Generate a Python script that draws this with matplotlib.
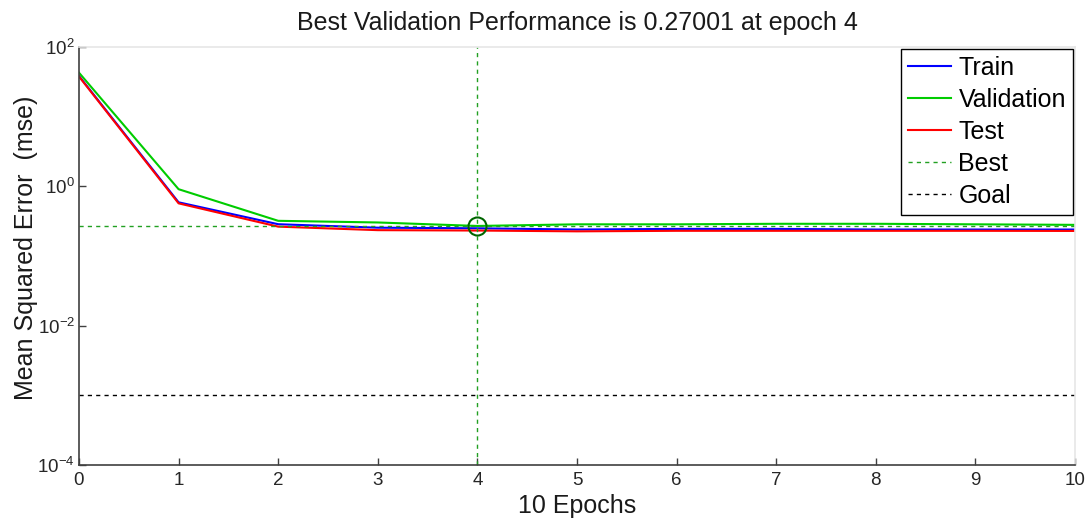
import matplotlib
matplotlib.use("Agg")
import matplotlib.pyplot as plt
from matplotlib.ticker import LogFormatterSciNotation, NullLocator

plt.rcParams["font.family"] = ["Liberation Sans", "DejaVu Sans"]
plt.rcParams["mathtext.default"] = "regular"
plt.rcParams["axes.unicode_minus"] = False

epochs = [0, 1, 2, 3, 4, 5, 6, 7, 8, 9, 10]
train = [38.4, 0.59, 0.286, 0.255, 0.25, 0.24, 0.245, 0.245, 0.24, 0.24, 0.24]
validation = [42.8, 0.91, 0.32, 0.303, 0.27001, 0.285, 0.285, 0.29, 0.29, 0.285, 0.28]
test = [37.7, 0.57, 0.264, 0.235, 0.232, 0.226, 0.23, 0.23, 0.23, 0.23, 0.229]
best_epoch = 4
best_perf = 0.27001
goal = 0.001

fig = plt.figure(figsize=(10.91, 5.23), dpi=100)
ax = fig.add_axes([0.0724, 0.1109, 0.9129, 0.7992])

ax.plot(epochs, train, color="#0000ff", lw=1.5, label="Train")
ax.plot(epochs, validation, color="#00cc00", lw=1.5, label="Validation")
ax.plot(epochs, test, color="#ff0000", lw=1.5, label="Test")
ax.axvline(best_epoch, color="#22a022", lw=1.0, ls=(0, (3, 3)))
ax.axhline(best_perf, color="#22a022", lw=1.0, ls=(0, (3, 3)), label="Best")
ax.axhline(goal, color="black", lw=1.0, ls=(0, (3, 3)), label="Goal")
ax.plot([best_epoch], [best_perf], "o", ms=13, mfc="none", mec="#006600", mew=1.5)

ax.set_yscale("log")
ax.set_xlim(0, 10)
ax.set_ylim(1e-4, 1e2)
ax.set_xticks(range(0, 11))
ax.set_yticks([1e-4, 1e-2, 1e0, 1e2])
ax.yaxis.set_minor_locator(NullLocator())
ax.yaxis.set_major_formatter(LogFormatterSciNotation())

for side in ["left", "bottom"]:
    ax.spines[side].set_color("#404040")
    ax.spines[side].set_linewidth(1.2)
for side in ["top", "right"]:
    ax.spines[side].set_color("#e6e6e6")
    ax.spines[side].set_linewidth(1.2)
ax.tick_params(direction="in", length=5, width=1, color="#404040",
               labelsize=13.5, labelcolor="#262626", pad=5)
ax.tick_params(axis="y", pad=3)

ax.set_title("Best Validation Performance is 0.27001 at epoch 4",
             fontsize=18, color="#1a1a1a", pad=12)
ax.set_xlabel("10 Epochs", fontsize=18, color="#1a1a1a", labelpad=4)
ax.set_ylabel("Mean Squared Error  (mse)", fontsize=18, color="#1a1a1a")
ax.yaxis.set_label_coords(-0.041, 0.52)

leg = ax.legend(loc="upper right", fontsize=18, frameon=True, fancybox=False,
                edgecolor="black", framealpha=1, borderaxespad=0.08,
                handlelength=1.7, handletextpad=0.3, labelspacing=0.32,
                borderpad=0.28)
leg.get_frame().set_linewidth(1.0)

fig.savefig("out.png", dpi=100)
